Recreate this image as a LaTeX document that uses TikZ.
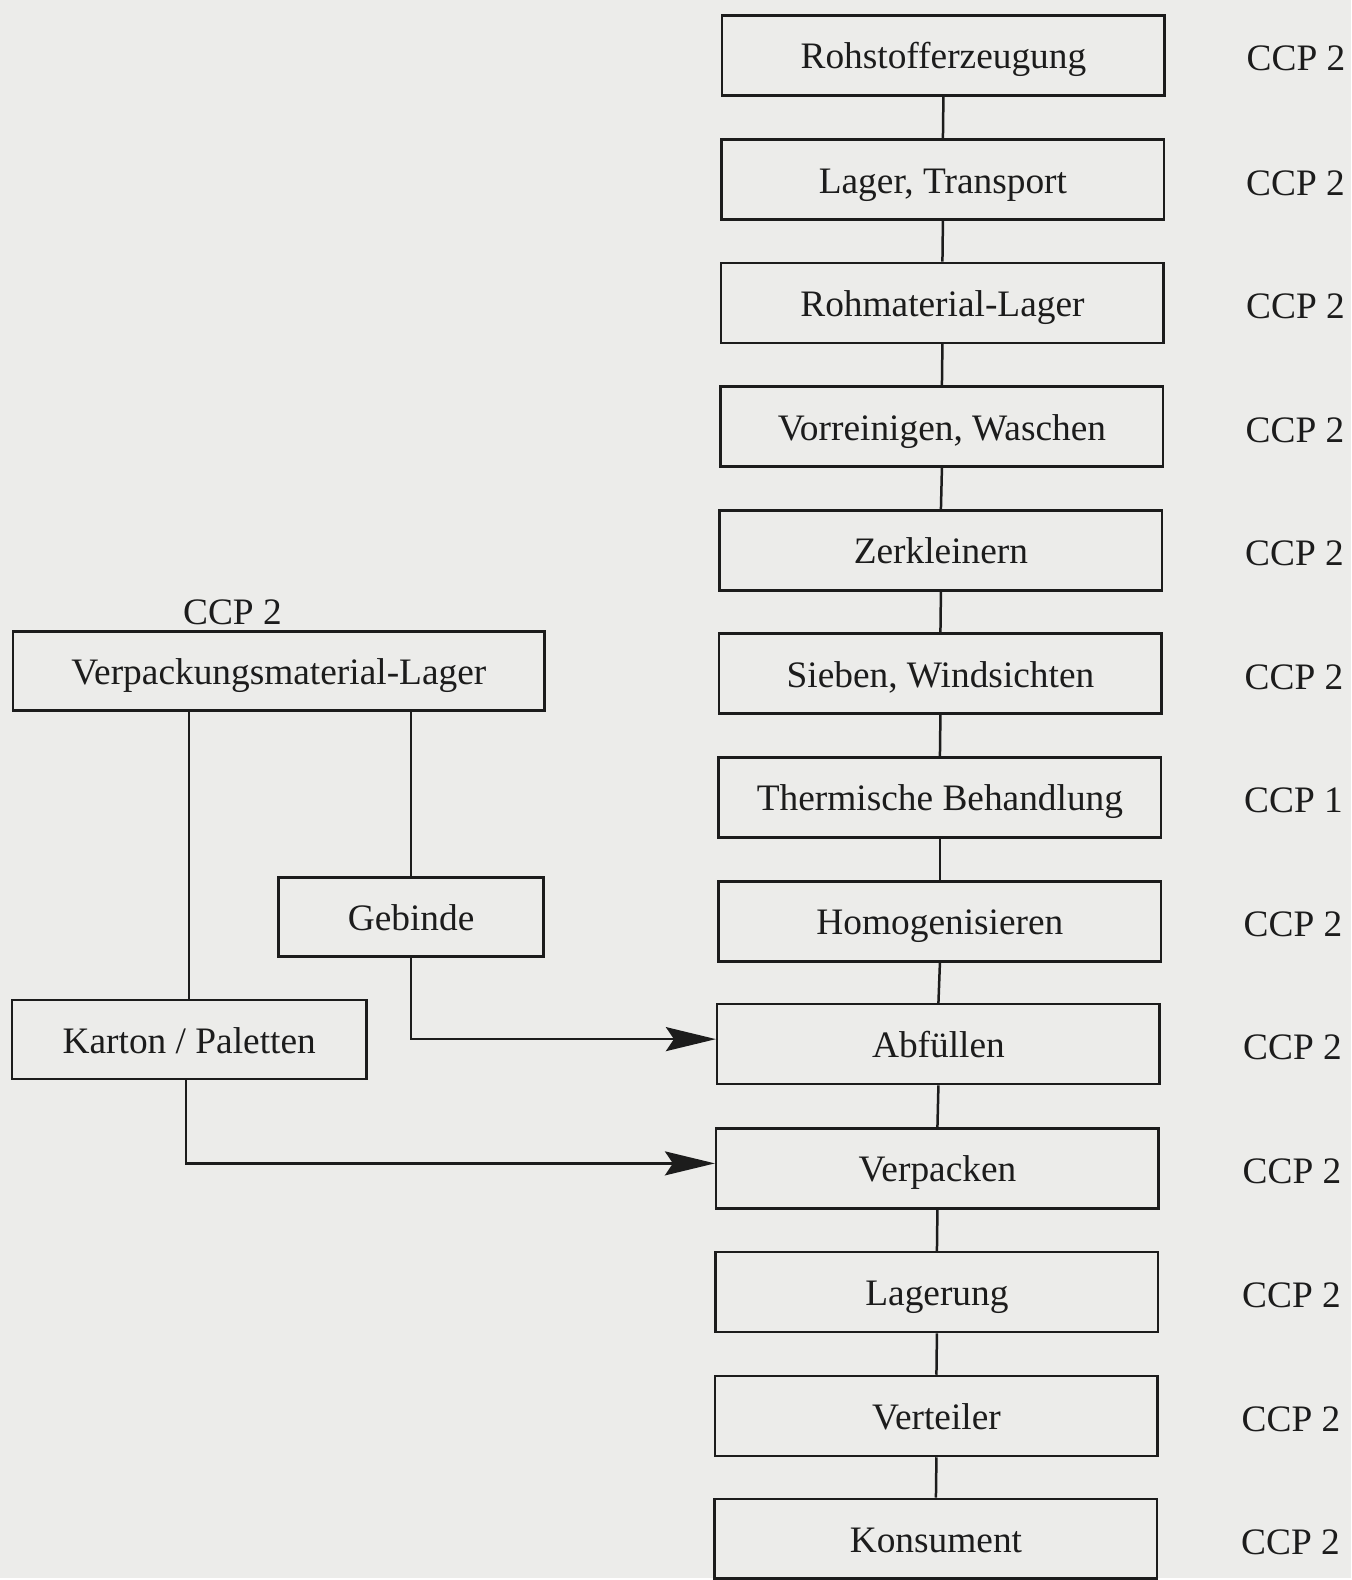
\documentclass[tikz,border=0pt]{standalone}
\usepackage{fontspec}
\setmainfont{Liberation Serif}
\usetikzlibrary{arrows.meta,calc}
\definecolor{bgcol}{RGB}{236,236,234}
\definecolor{ink}{RGB}{28,28,28}
\tikzset{
  procbox/.style={draw=ink, line width=2.6pt, minimum width=443pt, minimum height=80pt, inner sep=0pt, text=ink, text height=27pt, text depth=0pt, font=\fontsize{37.4}{44}\selectfont},
  sidebox/.style={draw=ink, line width=2.6pt, minimum height=79pt, inner sep=0pt, text=ink, text height=27pt, text depth=0pt, font=\fontsize{37.4}{44}\selectfont},
  ccplabel/.style={text=ink, inner sep=0pt, text height=27pt, text depth=0pt, font=\fontsize{37.4}{44}\selectfont},
  conn/.style={draw=ink, line width=2.5pt},
  arr/.style={conn, -{Stealth[length=50pt,width=24pt,inset=8pt]}}
}
\begin{document}
\begin{tikzpicture}[x=1pt,y=-1pt]
\fill[bgcol] (0,0) rectangle (1353,1580);
% main column
\node[procbox] (n1) at (944.5,55.4) {Rohstofferzeugung};
\node[procbox] (n2) at (944,179.8) {Lager, Transport};
\node[procbox] (n3) at (943.5,303.3) {Rohmaterial-Lager};
\node[procbox] (n4) at (943,427.2) {Vorreinigen, Waschen};
\node[procbox] (n5) at (942,551.1) {Zerkleinern};
\node[procbox] (n6) at (941.5,674.5) {Sieben, Windsichten};
\node[procbox] (n7) at (941,798.4) {Thermische Behandlung};
\node[procbox] (n8) at (941,922.4) {Homogenisieren};
\node[procbox] (n9) at (939.5,1045.3) {Abfüllen};
\node[procbox] (n10) at (938.5,1169.7) {Verpacken};
\node[procbox] (n11) at (938,1293.6) {Lagerung};
\node[procbox] (n12) at (937.5,1417.6) {Verteiler};
\node[procbox] (n13) at (937,1540.5) {Konsument};
% CCP labels
\node[ccplabel] (c1) at (1297.5,57.4) {CCP 2};
\node[ccplabel] (c2) at (1297,181.8) {CCP 2};
\node[ccplabel] (c3) at (1297,305.3) {CCP 2};
\node[ccplabel] (c4) at (1296.5,429.2) {CCP 2};
\node[ccplabel] (c5) at (1296,553.1) {CCP 2};
\node[ccplabel] (c6) at (1295.5,676.5) {CCP 2};
\node[ccplabel] (c7) at (1295,800.4) {CCP 1};
\node[ccplabel] (c8) at (1294.5,924.4) {CCP 2};
\node[ccplabel] (c9) at (1294,1047.3) {CCP 2};
\node[ccplabel] (c10) at (1293.5,1171.7) {CCP 2};
\node[ccplabel] (c11) at (1293,1295.6) {CCP 2};
\node[ccplabel] (c12) at (1292.5,1419.6) {CCP 2};
\node[ccplabel] (c13) at (1292,1542.5) {CCP 2};
% connectors in main column
\foreach \a/\b in {n1/n2,n2/n3,n3/n4,n4/n5,n5/n6,n6/n7,n7/n8,n8/n9,n9/n10,n10/n11,n11/n12,n12/n13}
  \draw[conn] (\a.south) -- (\b.north);
% left part
\node[ccplabel] (cv) at (232.7,611.5) {CCP 2};
\node[sidebox, minimum width=532pt] (vml) at (279.1,672) {Verpackungsmaterial-Lager};
\node[sidebox, minimum width=265pt] (geb) at (411.6,917.8) {Gebinde};
\node[sidebox, minimum width=354.6pt] (kar) at (189.4,1040.7) {Karton / Paletten};
\draw[conn] (vml.south -| kar.north) -- (kar.north);
\draw[conn] (vml.south -| geb.north) -- (geb.north);
\draw[arr] (geb.south) |- ([yshift=5pt]n9.west);
\draw[arr] ([xshift=-3pt]kar.south) |- ([yshift=5pt]n10.west);
\end{tikzpicture}
\end{document}
